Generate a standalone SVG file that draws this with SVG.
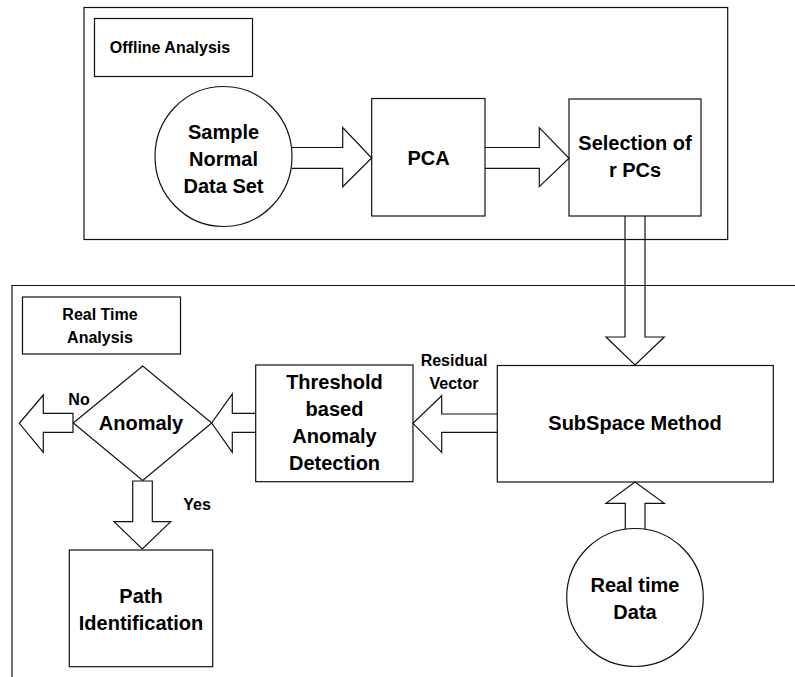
<svg xmlns="http://www.w3.org/2000/svg" width="795" height="677" viewBox="0 0 795 677">
<style>
.s{fill:none;stroke:#111;stroke-width:1.2;stroke-linejoin:miter}
.w{fill:#fff;stroke:#111;stroke-width:1.2}
.t{font-family:"Liberation Sans",Arial,sans-serif;font-weight:bold;fill:#000;text-anchor:middle}
.big{font-size:20px}
.sm{font-size:16px}
</style>
<rect width="795" height="677" fill="#fff"/>
<g id="offline-region">
<rect class="s" x="84" y="7.5" width="643.7" height="232"/>
</g>
<g id="realtime-region">
<path class="s" d="M795 285.5H12V677"/>
</g>
<g id="offline-label">
<rect class="s" x="94.5" y="18.5" width="158" height="58"/>
<text class="t sm" x="170" y="52.5">Offline Analysis</text>
</g>
<g id="realtime-label">
<rect class="s" x="22.5" y="297" width="158" height="57"/>
<text class="t sm" x="100" y="320">Real Time</text>
<text class="t sm" x="100" y="343">Analysis</text>
</g>
<g id="sample-data">
<ellipse class="s" cx="223.5" cy="156.5" rx="68.5" ry="70"/>
<text class="t big" x="223.5" y="139">Sample</text>
<text class="t big" x="223.5" y="166">Normal</text>
<text class="t big" x="223.5" y="193">Data Set</text>
</g>
<g id="pca">
<rect class="s" x="371.7" y="98.5" width="113.3" height="117.5"/>
<text class="t big" x="428.5" y="165">PCA</text>
</g>
<g id="selection">
<rect class="s" x="569" y="99" width="132" height="117"/>
<text class="t big" x="635" y="150">Selection of</text>
<text class="t big" x="635" y="176.5">r PCs</text>
</g>
<g id="subspace">
<rect class="s" x="497.3" y="365.5" width="276" height="116.5"/>
<text class="t big" x="635" y="430">SubSpace Method</text>
</g>
<g id="threshold">
<rect class="s" x="255.7" y="365" width="157.3" height="116.7"/>
<text class="t big" x="334.5" y="389">Threshold</text>
<text class="t big" x="334.5" y="416">based</text>
<text class="t big" x="334.5" y="443">Anomaly</text>
<text class="t big" x="334.5" y="470">Detection</text>
</g>
<g id="anomaly">
<polygon class="s" points="73.3,423 142.7,366 211.7,423 142.7,480.5"/>
<text class="t big" x="141" y="430">Anomaly</text>
</g>
<g id="path-id">
<rect class="s" x="69.3" y="550" width="143.4" height="116.7"/>
<text class="t big" x="141" y="603">Path</text>
<text class="t big" x="141" y="630">Identification</text>
</g>
<g id="realtime-data">
<ellipse class="s" cx="635" cy="597.5" rx="68.3" ry="69"/>
<text class="t big" x="635" y="592">Real time</text>
<text class="t big" x="635" y="618.5">Data</text>
</g>
<g id="connectors">
<polyline class="s" points="291.7,147.5 342.7,147.5 342.7,127.5 371.7,158 342.7,186.7 342.7,168.3 291.7,168.3"/>
<polyline class="s" points="485,147.5 539.3,147.5 539.3,127.7 569,158.3 539.3,186.7 539.3,168.3 485,168.3"/>
<polyline class="s" points="625,216 625,337 606,337 635,365 664.3,337 645,337 645,216"/>
<polyline class="s" points="497.3,414 441.7,414 441.7,395.7 413,423.3 441.7,452.3 441.7,432.3 497.3,432.3"/>
<polyline class="s" points="255.7,413.3 232.3,413.3 232.3,394 211.7,423 232.3,452.3 232.3,432.3 255.7,432.3"/>
<polygon class="s" points="73,413.3 43.3,413.3 43.3,395 19.3,423.3 43.3,452.3 43.3,432.3 73,432.3"/>
<polygon class="s" points="132.7,481 132.7,521.7 114,521.7 142.3,549 170.7,521.7 152.3,521.7 152.3,481"/>
<polyline class="s" points="625.3,529.5 625.3,503.3 606,503.3 635,482 664.3,503.3 645,503.3 645,529.5"/>
<text class="t sm" x="454" y="366">Residual</text>
<text class="t sm" x="454" y="389">Vector</text>
<text class="t sm" x="79" y="405">No</text>
<text class="t sm" x="197" y="510">Yes</text>
</g>
</svg>
